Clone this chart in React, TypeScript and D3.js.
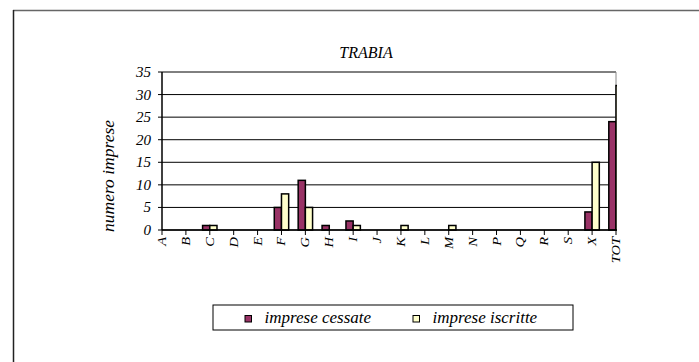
import React from "react";
import * as d3 from "d3";

const categories = ["A","B","C","D","E","F","G","H","I","J","K","L","M","N","P","Q","R","S","X","TOT"];
const cessate = [0,0,1,0,0,5,11,1,2,0,0,0,0,0,0,0,0,0,4,24];
const iscritte = [0,0,1,0,0,8,5,0,1,0,1,0,1,0,0,0,0,0,15,32];
const yTicks = [0,5,10,15,20,25,30,35];
const seriesNames = ["imprese cessate","imprese iscritte"];
const colors = ["#993366","#FFFFCC"];

const W = 699, H = 362;
const plot = { left: 162, right: 616, top: 72, bottom: 230 };
const ts = (size: number): React.CSSProperties => ({ fontFamily: "Liberation Serif", fontStyle: "italic", fontSize: size });

export default function App() {
  const x = d3.scalePoint<string>().domain(categories).range([plot.left, plot.right]);
  const y = d3.scaleLinear().domain([0, 35]).range([plot.bottom, plot.top]);
  const bw = 7.2;
  const series = [cessate, iscritte];
  return (
    <svg width={W} height={H} style={{ position: "fixed", left: 0, top: 0, background: "#fff" }}>
      <defs>
        <clipPath id="pc">
          <rect x={plot.left - 20} y={plot.top - 5} width={plot.right - plot.left + 21} height={plot.bottom - plot.top + 10} />
        </clipPath>
      </defs>
      {/* outer frame */}
      <line x1={13} y1={10.5} x2={W} y2={10.5} stroke="#666" strokeWidth={1.5} />
      <line x1={13.5} y1={10} x2={13.5} y2={H} stroke="#222" strokeWidth={1.5} />
      {/* title */}
      <text x={366} y={58} textAnchor="middle" style={ts(16)}>TRABIA</text>
      {/* gridlines */}
      {yTicks.map(t => (
        <g key={t}>
          <line x1={plot.left} x2={plot.right} y1={y(t)} y2={y(t)} stroke="#000" strokeWidth={1} />
          <line x1={plot.left - 4} x2={plot.left} y1={y(t)} y2={y(t)} stroke="#000" strokeWidth={1} />
          <text x={plot.left - 11} y={y(t) + 5} textAnchor="end" style={ts(15)}>{t}</text>
        </g>
      ))}
      <line x1={plot.right} x2={plot.right} y1={plot.top} y2={plot.bottom} stroke="#888" strokeWidth={1} />
      {/* bars */}
      <g clipPath="url(#pc)">
        {categories.map((c, i) => series.map((s, k) => {
          const cx = x(c)!;
          const x0 = k === 0 ? cx - bw : cx;
          const v = s[i];
          return (
            <rect key={c + k} x={x0} y={y(v)} width={bw} height={Math.max(0, y(0) - y(v))}
              fill={colors[k]} stroke="#000" strokeWidth={1.5} />
          );
        }))}
      </g>
      {/* axes */}
      <line x1={plot.left} x2={plot.left} y1={plot.top} y2={plot.bottom} stroke="#000" strokeWidth={1.5} />
      <line x1={plot.left} x2={plot.right} y1={plot.bottom} y2={plot.bottom} stroke="#000" strokeWidth={1.5} />
      {categories.map(c => (
        <g key={c}>
          <line x1={x(c)} x2={x(c)} y1={plot.bottom} y2={plot.bottom + 5} stroke="#000" strokeWidth={1} />
          <text transform={`translate(${x(c)! + 4},${plot.bottom + 7}) rotate(-90) scale(1,0.8)`} textAnchor="end" style={ts(14.5)}>{c}</text>
        </g>
      ))}
      {/* y title */}
      <text transform={`translate(114,176) rotate(-90)`} textAnchor="middle" style={ts(17.5)}>numero imprese</text>
      {/* legend */}
      <rect x={213} y={305} width={360} height={25} fill="#fff" stroke="#000" strokeWidth={1} />
      {seriesNames.map((n, k) => {
        const lx = k === 0 ? 245 : 413;
        return (
          <g key={n}>
            <rect x={lx} y={315.5} width={6.5} height={6.5} fill={colors[k]} stroke="#000" strokeWidth={1} />
            <text x={lx + 19.5} y={322.5} style={ts(17)}>{n}</text>
          </g>
        );
      })}
    </svg>
  );
}
